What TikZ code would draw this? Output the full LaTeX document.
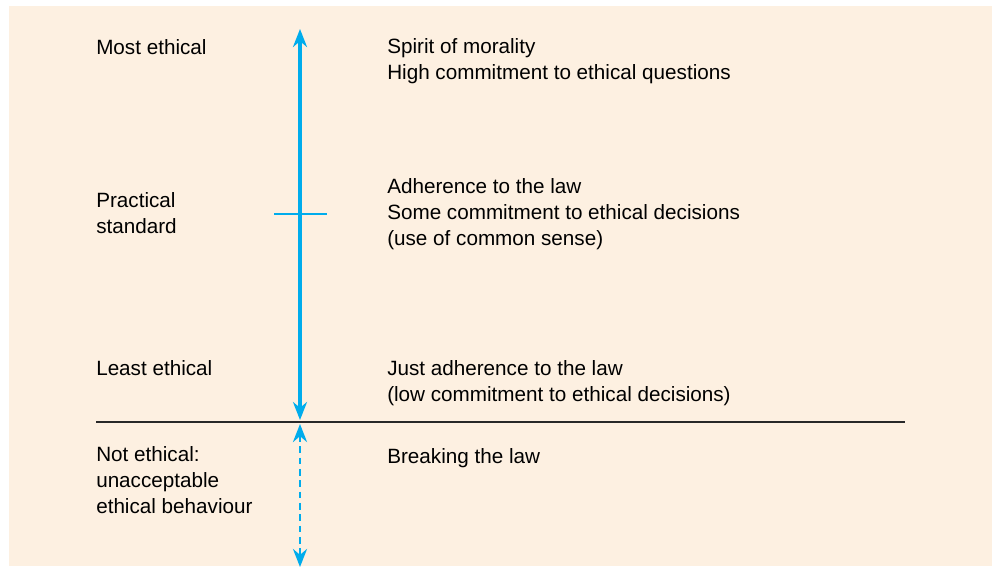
\documentclass[tikz,border=0pt]{standalone}
\usepackage{fontspec}
\setmainfont{Liberation Sans}
\usepackage{tikz}
\usetikzlibrary{arrows}
\usetikzlibrary{arrows.meta}
\definecolor{PeachBg}{RGB}{253,240,225}
\definecolor{ScaleBlue}{RGB}{0,172,236}
\definecolor{LawGrey}{RGB}{40,40,40}
\tikzstyle{LevelText}=[anchor=base west, inner sep=0pt, align=left, font=\fontsize{15.5}{19.2}\selectfont]
\tikzstyle{ScaleEdge}=[{Stealth[length=13.5pt,width=10.5pt]}-{Stealth[length=13.5pt,width=10.5pt]}, line width=2.3pt, draw=ScaleBlue]
\tikzstyle{BadEdge}=[ScaleEdge, line width=2.2pt, dash pattern=on 5pt off 3.5pt]
\tikzstyle{TickEdge}=[line width=1.3pt, draw=ScaleBlue]
\tikzstyle{LawEdge}=[line width=1.1pt, draw=LawGrey]

\begin{document}
\begin{tikzpicture}[x=0.75pt, y=-0.75pt]
\useasboundingbox (0,0) rectangle (995,569);
\fill[PeachBg] (9,6) rectangle (992,566);

% base anchor sits on the last line
\node[LevelText](MOST) at (96,54) {Most ethical};
\node[LevelText](SPIRIT) at (387,79) {Spirit of morality\\High commitment to ethical questions};
\node[LevelText](PRACT) at (96,233) {Practical\\standard};
\node[LevelText](ADHERE) at (387,245) {Adherence to the law\\Some commitment to ethical decisions\\(use of common sense)};
\node[LevelText](LEAST) at (96,375) {Least ethical};
\node[LevelText](JUST) at (387,401) {Just adherence to the law\\(low commitment to ethical decisions)};
\node[LevelText](NOT) at (96,513) {Not ethical:\\unacceptable\\ethical behaviour};
\node[LevelText](BREAK) at (387,463) {Breaking the law};

\coordinate(TOP) at (300,29);
\coordinate(LAWUP) at (300,420);
\coordinate(LAWDN) at (300,424);
\coordinate(BOTTOM) at (300,567);
\coordinate(TICKL) at (274,214);
\coordinate(TICKR) at (327,214);
\coordinate(LAWL) at (96,422);
\coordinate(LAWR) at (905,422);

\draw[LawEdge](LAWL) -- (LAWR);
\draw[ScaleEdge](TOP) -- (LAWUP);
\draw[BadEdge](LAWDN) -- (BOTTOM);
\draw[TickEdge](TICKL) -- (TICKR);
\end{tikzpicture}
\end{document}
